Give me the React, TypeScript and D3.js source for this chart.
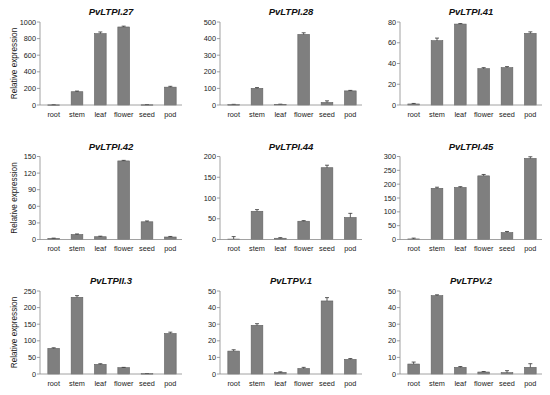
import React from "react";
import { scaleBand, scaleLinear, range } from "d3";

const tissues = ["root", "stem", "leaf", "flower", "seed", "pod"];

const genes = ["PvLTPI.27", "PvLTPI.28", "PvLTPI.41", "PvLTPI.42", "PvLTPI.44", "PvLTPI.45", "PvLTPII.3", "PvLTPV.1", "PvLTPV.2"];

// expression means per tissue (root..pod)
const ltpi27 = [2, 160, 860, 940, 3, 215];
const ltpi28 = [2, 100, 4, 425, 15, 85];
const ltpi41 = [1, 62, 78, 35, 36, 69];
const ltpi42 = [2, 9, 5, 142, 32, 4.5];
const ltpi44 = [1, 68, 3, 44, 173, 53];
const ltpi45 = [2, 185, 188, 230, 25, 293];
const ltpii3 = [77, 231, 29, 19, 1, 122];
const ltpv1 = [13.8, 29.3, 1, 3.3, 44, 8.8];
const ltpv2 = [6, 47.2, 4, 1.2, 0.8, 4];

// error bars (SD)
const ltpi27Err = [2, 8, 20, 10, 2, 10];
const ltpi28Err = [2, 5, 1, 10, 10, 3];
const ltpi41Err = [0.5, 2.5, 0.5, 1, 1, 1.5];
const ltpi42Err = [0.5, 1, 1, 1, 1.5, 1];
const ltpi44Err = [6, 4, 1.5, 1.5, 6, 10];
const ltpi45Err = [3, 4, 3, 5, 4, 6];
const ltpii3Err = [2, 5, 2, 1, 0.5, 4];
const ltpv1Err = [0.8, 1, 0.3, 0.7, 2, 0.5];
const ltpv2Err = [1.2, 0.5, 0.5, 0.3, 1.2, 2.2];

// y axis max and step per panel
const yMax = [1000, 500, 80, 150, 200, 300, 250, 50, 50];
const yStep = [200, 100, 20, 30, 50, 50, 50, 10, 10];

const values = [ltpi27, ltpi28, ltpi41, ltpi42, ltpi44, ltpi45, ltpii3, ltpv1, ltpv2];
const errors = [ltpi27Err, ltpi28Err, ltpi41Err, ltpi42Err, ltpi44Err, ltpi45Err, ltpii3Err, ltpv1Err, ltpv2Err];

const font = "Arial, 'Liberation Sans', sans-serif";
const colX = [40, 220, 400];
const rowTop = [22, 156.5, 291];
const plotW = 142;
const plotH = 83;

function Panel({ idx }: { idx: number }) {
  const x0 = colX[idx % 3];
  const top = rowTop[Math.floor(idx / 3)];
  const bottom = top + plotH;

  const x = scaleBand<string>()
    .domain(tissues)
    .range([x0 + 2, x0 + plotW])
    .paddingInner(0.5)
    .paddingOuter(0.25);

  const y = scaleLinear().domain([0, yMax[idx]]).range([bottom, top]);
  const ticks = range(0, yMax[idx] + yStep[idx] / 2, yStep[idx]);

  return (
    <g>
      <text x={x0 + plotW / 2} y={top - 7} textAnchor="middle" fontSize={9.5} fontWeight="bold" fontStyle="italic" fill="#111">
        {genes[idx]}
      </text>
      {/* bars */}
      {tissues.map((t, i) => {
        const v = values[idx][i];
        const e = errors[idx][i];
        const cx = x(t)! + x.bandwidth() / 2;
        return (
          <g key={t}>
            <rect x={x(t)} y={y(v)} width={x.bandwidth()} height={Math.max(0.5, bottom - y(v))} fill="#7f7f7f" stroke="#5e5e5e" strokeWidth={0.6} />
            <line x1={cx} x2={cx} y1={y(v + e)} y2={y(v)} stroke="#333" strokeWidth={0.8} />
            <line x1={cx - 2} x2={cx + 2} y1={y(v + e)} y2={y(v + e)} stroke="#333" strokeWidth={0.8} />
          </g>
        );
      })}
      {/* y axis */}
      <line x1={x0} x2={x0} y1={top} y2={bottom} stroke="#8a8a8a" strokeWidth={0.8} />
      {ticks.map((tk) => (
        <g key={tk}>
          <line x1={x0 - 3} x2={x0} y1={y(tk)} y2={y(tk)} stroke="#8a8a8a" strokeWidth={0.8} />
          <text x={x0 - 4} y={y(tk)} dy="0.35em" textAnchor="end" fontSize={7.3} fill="#222">
            {tk}
          </text>
        </g>
      ))}
      {/* x axis */}
      <line x1={x0} x2={x0 + plotW} y1={bottom} y2={bottom} stroke="#8a8a8a" strokeWidth={0.8} />
      {tissues.map((t) => (
        <text key={t} x={x(t)! + x.bandwidth() / 2} y={bottom + 11.5} textAnchor="middle" fontSize={7.3} fill="#222">
          {t}
        </text>
      ))}
      {idx % 3 === 0 && (
        <text transform={`translate(${17},${(top + bottom) / 2}) rotate(-90)`} textAnchor="middle" fontSize={8.2} fill="#222">
          Relative expression
        </text>
      )}
    </g>
  );
}

export default function App() {
  return (
    <svg width={550} height={395} style={{ position: "absolute", left: 0, top: 0, background: "#fff" }} fontFamily={font}>
      <rect width={550} height={395} fill="#fff" />
      {genes.map((g, i) => (
        <Panel key={g} idx={i} />
      ))}
    </svg>
  );
}
